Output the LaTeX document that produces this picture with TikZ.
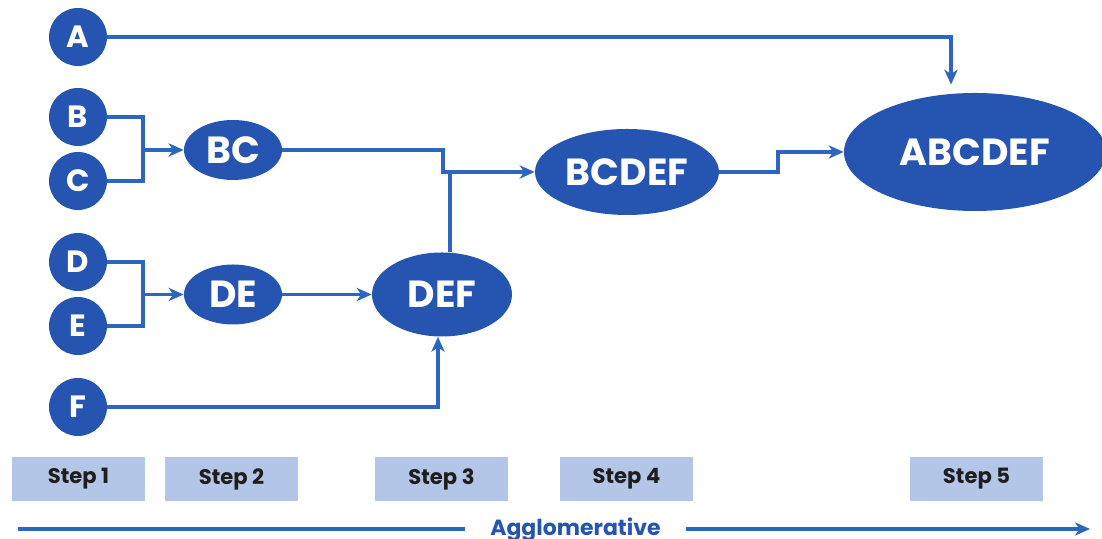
\documentclass[tikz,border=0pt]{standalone}
\usepackage{fontspec}
\setmainfont{Poppins}
\usetikzlibrary{arrows.meta,calc,shapes.geometric}

\definecolor{clusterblue}{RGB}{37,84,177}
\definecolor{linkblue}{RGB}{44,102,190}
\definecolor{stepfill}{RGB}{180,198,231}
\definecolor{steptext}{RGB}{30,30,30}

\begin{document}
\begin{tikzpicture}[
  >={Stealth[length=8.5pt,width=7.5pt,inset=2.5pt]},
  every node/.style={font=\bfseries},
  leaf/.style={circle,fill=clusterblue,text=white,minimum size=1.16cm,inner sep=0pt,
    font=\bfseries\fontsize{17.5}{20}\selectfont},
  cluster/.style={ellipse,fill=clusterblue,text=white,inner sep=0pt,
    font=\bfseries\fontsize{21.5}{24}\selectfont},
  stepbox/.style={fill=stepfill,text=steptext,minimum width=2.66cm,minimum height=0.88cm,
    inner sep=0pt,font=\bfseries\fontsize{12}{14}\selectfont},
  link/.style={draw=linkblue,line width=2pt}
]
\useasboundingbox (0,0) rectangle (22.04,10.78);

% ------------------------------------------------------------------
% Single points
% ------------------------------------------------------------------
\foreach \name/\ypos in {A/10.04,B/8.44,C/7.16,D/5.54,E/4.26,F/2.64}
  \node[leaf] (\name) at (1.56,\ypos) {\name};

% ------------------------------------------------------------------
% Merged clusters
% ------------------------------------------------------------------
\node[cluster,minimum width=1.96cm,minimum height=1.20cm] (BC) at (4.66,7.78) {BC};
\node[cluster,minimum width=1.96cm,minimum height=1.20cm] (DE) at (4.66,4.89) {DE};
\node[cluster,minimum width=2.80cm,minimum height=1.68cm] (DEF) at (8.84,4.89) {DEF};
\node[cluster,minimum width=3.68cm,minimum height=1.72cm] (BCDEF) at (12.54,7.34) {BCDEF};
\node[cluster,minimum width=5.24cm,minimum height=2.36cm] (ABCDEF) at (19.50,7.74) {ABCDEF};

% ------------------------------------------------------------------
% Merges
% ------------------------------------------------------------------
\coordinate (jBC) at (2.86,7.78);
\coordinate (jDE) at (2.86,4.89);
\coordinate (jBCDEF) at (8.86,7.34);
\coordinate (jABCDEF) at (15.56,7.74);

\draw[link] (B.east) -| (jBC) |- (C.east);
\draw[link,->] (jBC) -- (BC.west);
\draw[link] (D.east) -| (jDE) |- (E.east);
\draw[link,->] (jDE) -- (DE.west);

\draw[link,->] (DE.east) -- (DEF.west);
\draw[link,->] (F.east) -| ([xshift=-0.08cm]DEF.south);

\draw[link,->] (BC.east) -| (jBCDEF) -- (BCDEF.west);
\draw[link] ([xshift=0.16cm]DEF.north) -- ([xshift=0.16cm]DEF.north |- jBCDEF);

\draw[link,->] (BCDEF.east) -| (jABCDEF) -- (ABCDEF.west);
\draw[link,->,shorten >=0.16cm] (A.east) -| ([xshift=-0.48cm]ABCDEF.north);

% ------------------------------------------------------------------
% Steps
% ------------------------------------------------------------------
\foreach \i/\xpos in {1/1.57,2/4.63,3/8.83,4/12.53,5/19.53}
  \node[stepbox] (step\i) at (\xpos,1.20) {Step \i};

\node[text=clusterblue,inner xsep=0.50cm,inner ysep=0pt,anchor=base,
  font=\bfseries\fontsize{12.5}{14}\selectfont] (agglo) at (11.51,0.06) {Agglomerative};
\coordinate (axisL) at (0.36,0.20);
\coordinate (axisR) at (21.80,0.20);
\draw[link] (axisL) -- (agglo.west |- axisL);
\draw[link,->] (agglo.east |- axisR) -- (axisR);

\end{tikzpicture}
\end{document}
